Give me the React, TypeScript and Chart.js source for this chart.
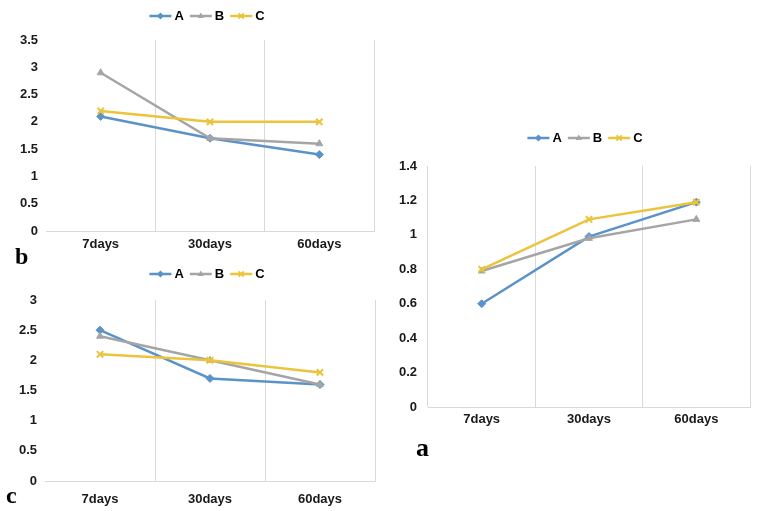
import { useEffect, useRef } from 'react';
import { Chart, registerables } from 'chart.js';

Chart.register(...registerables);

// ---------- data ----------
const categories = ['7days', '30days', '60days'];
const seriesNames = ['A', 'B', 'C'];

// panel b
const bA = [2.1, 1.7, 1.4];
const bB = [2.9, 1.7, 1.6];
const bC = [2.2, 2.0, 2.0];
const bTicks = [0, 0.5, 1, 1.5, 2, 2.5, 3, 3.5];

// panel c
const cA = [2.5, 1.7, 1.6];
const cB = [2.4, 2.0, 1.6];
const cC = [2.1, 2.0, 1.8];
const cTicks = [0, 0.5, 1, 1.5, 2, 2.5, 3];

// panel a
const aA = [0.6, 0.99, 1.19];
const aB = [0.79, 0.98, 1.09];
const aC = [0.8, 1.09, 1.19];
const aTicks = [0, 0.2, 0.4, 0.6, 0.8, 1, 1.2, 1.4];

// ---------- styles ----------
const COLORS = ['#5B93C9', '#A5A5A5', '#EBC43C'];
const POINT_STYLES = ['rectRot', 'triangle', 'crossRot'];
const FONT_FAMILY = '"Liberation Sans", Arial, sans-serif';
const GRID = '#d9d9d9';
const TEXT = '#1a1a1a';

type Rect = { left: number; right: number; top: number; bottom: number };
type PanelProps = {
  series: number[][];
  ticks: number[];
  left: number;
  top: number;
  width: number;
  height: number;
  area: Rect;
  legendX: number;
  legendY: number;
  yPad: number;
  xPad: number;
  hideLeftGrid: boolean;
};

function drawMarker(ctx: CanvasRenderingContext2D, style: string, x: number, y: number, r: number, color: string) {
  ctx.save();
  ctx.fillStyle = color;
  ctx.strokeStyle = color;
  ctx.beginPath();
  if (style === 'rectRot') {
    ctx.moveTo(x, y - r);
    ctx.lineTo(x + r, y);
    ctx.lineTo(x, y + r);
    ctx.lineTo(x - r, y);
    ctx.closePath();
    ctx.fill();
  } else if (style === 'triangle') {
    ctx.moveTo(x, y - r);
    ctx.lineTo(x + r * 0.9, y + r * 0.6);
    ctx.lineTo(x - r * 0.9, y + r * 0.6);
    ctx.closePath();
    ctx.fill();
  } else {
    ctx.lineWidth = 1.8;
    const d = r * 0.75;
    ctx.moveTo(x - d, y - d);
    ctx.lineTo(x + d, y + d);
    ctx.moveTo(x + d, y - d);
    ctx.lineTo(x - d, y + d);
    ctx.stroke();
  }
  ctx.restore();
}

function Panel(p: PanelProps) {
  const ref = useRef<HTMLCanvasElement | null>(null);
  useEffect(() => {
    if (!ref.current) return;
    const legendPlugin = {
      id: 'excelLegend',
      afterDraw(chart: any) {
        const ctx: CanvasRenderingContext2D = chart.ctx;
        ctx.save();
        ctx.font = `bold 13px ${FONT_FAMILY}`;
        const lineLen = 22;
        const gap = 3;
        const spacing = 6;
        const dss = chart.data.datasets;
        const widths = dss.map((d: any) => ctx.measureText(d.label).width);
        let total = 0;
        widths.forEach((w: number) => (total += lineLen + gap + w));
        total += spacing * (dss.length - 1);
        let x = p.legendX - p.left - total / 2;
        const y = p.legendY - p.top;
        dss.forEach((d: any, i: number) => {
          ctx.strokeStyle = d.borderColor;
          ctx.lineWidth = 2.5;
          ctx.beginPath();
          ctx.moveTo(x, y);
          ctx.lineTo(x + lineLen, y);
          ctx.stroke();
          drawMarker(ctx, d.pointStyle, x + lineLen / 2, y, 3.5, d.borderColor);
          ctx.fillStyle = '#000';
          ctx.textBaseline = 'middle';
          ctx.textAlign = 'left';
          ctx.fillText(d.label, x + lineLen + gap, y + 0.5);
          x += lineLen + gap + widths[i] + spacing;
        });
        ctx.restore();
      },
    };
    const chart = new Chart(ref.current, {
      type: 'line',
      data: {
        labels: categories,
        datasets: p.series.map((vals, i) => ({
          label: seriesNames[i],
          data: vals,
          borderColor: COLORS[i],
          backgroundColor: COLORS[i],
          borderWidth: 2.5,
          pointStyle: POINT_STYLES[i] as any,
          pointRadius: i === 2 ? 4.5 : 4,
          pointBorderWidth: i === 2 ? 2 : 1,
          pointBackgroundColor: COLORS[i],
          pointBorderColor: COLORS[i],
          tension: 0,
          order: 3 - i,
        })),
      },
      options: {
        animation: false,
        responsive: false,
        devicePixelRatio: 1,
        layout: {
          padding: {
            top: p.area.top - p.top,
            right: p.left + p.width - p.area.right,
            left: 0,
            bottom: 0,
          },
        },
        plugins: {
          legend: { display: false },
          tooltip: { enabled: false },
        },
        scales: {
          x: {
            type: 'category',
            offset: true,
            grid: {
              display: true,
              offset: true,
              drawTicks: false,
              lineWidth: 1,
              color: (c: any) => (c.index === 0 && p.hideLeftGrid ? 'rgba(0,0,0,0)' : GRID),
            },
            border: { display: true, color: GRID, width: 1 },
            ticks: {
              padding: p.xPad,
              color: TEXT,
              font: { family: FONT_FAMILY, size: 13, weight: 'bold' },
              maxRotation: 0,
            },
            afterFit: (s: any) => {
              s.height = p.top + p.height - p.area.bottom;
            },
          },
          y: {
            min: p.ticks[0],
            max: p.ticks[p.ticks.length - 1],
            grid: { display: false, drawTicks: false },
            border: { display: false },
            ticks: {
              padding: p.yPad,
              color: TEXT,
              font: { family: FONT_FAMILY, size: 13, weight: 'bold' },
              callback: (v: any) => String(Math.round(Number(v) * 100) / 100),
            },
            afterBuildTicks: (s: any) => {
              s.ticks = p.ticks.map((v) => ({ value: v }));
            },
            afterFit: (s: any) => {
              s.width = p.area.left - p.left;
            },
          },
        },
      } as any,
      plugins: [legendPlugin],
    });
    return () => chart.destroy();
  }, []);
  return (
    <canvas
      ref={ref}
      width={p.width}
      height={p.height}
      style={{ position: 'absolute', left: p.left, top: p.top, width: p.width, height: p.height }}
    />
  );
}

const letterStyle = (left: number, top: number, size: number): any => ({
  position: 'absolute',
  left,
  top,
  fontFamily: '"Liberation Serif", "Times New Roman", serif',
  fontWeight: 'bold',
  fontSize: size,
  lineHeight: `${size}px`,
  color: '#000',
  margin: 0,
});

export default function App() {
  return (
    <div
      style={{
        position: 'fixed',
        left: 0,
        top: 0,
        width: 763,
        height: 511,
        background: '#fff',
        overflow: 'hidden',
      }}
    >
      <Panel
        series={[bA, bB, bC]}
        ticks={bTicks}
        left={0}
        top={0}
        width={385}
        height={255}
        area={{ left: 46, right: 374, top: 40, bottom: 231 }}
        legendX={207}
        legendY={16}
        yPad={8}
        xPad={6}
        hideLeftGrid={true}
      />
      <Panel
        series={[cA, cB, cC]}
        ticks={cTicks}
        left={0}
        top={258}
        width={385}
        height={253}
        area={{ left: 45, right: 375, top: 300, bottom: 481 }}
        legendX={207}
        legendY={274}
        yPad={8}
        xPad={11}
        hideLeftGrid={true}
      />
      <Panel
        series={[aA, aB, aC]}
        ticks={aTicks}
        left={380}
        top={120}
        width={383}
        height={320}
        area={{ left: 428, right: 750, top: 166, bottom: 407 }}
        legendX={585}
        legendY={138}
        yPad={11}
        xPad={5}
        hideLeftGrid={false}
      />
      <div style={letterStyle(15, 244, 24)}>b</div>
      <div style={letterStyle(6, 483, 24)}>c</div>
      <div style={letterStyle(416, 435, 26)}>a</div>
    </div>
  );
}
